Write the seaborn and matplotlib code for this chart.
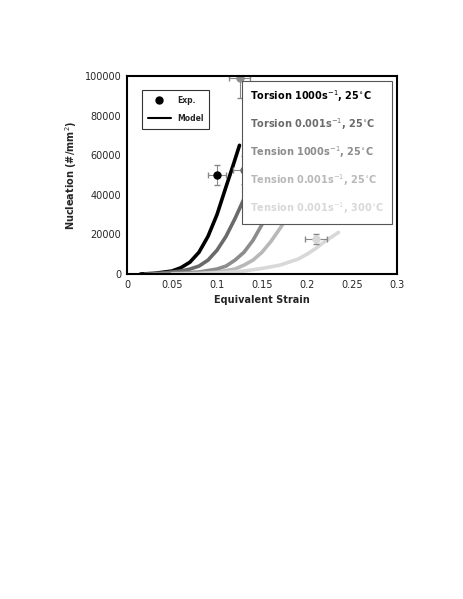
import matplotlib
matplotlib.use("Agg")
import matplotlib.pyplot as plt
import seaborn as sns
import pandas as pd
from matplotlib.lines import Line2D

series = ["Torsion 1000", "Torsion 0.001", "Tension 1000", "Tension 0.001", "Tension 300C"]
labels = [r"Torsion 1000s$^{-1}$, 25$^{\circ}$C", r"Torsion 0.001s$^{-1}$, 25$^{\circ}$C",
          r"Tension 1000s$^{-1}$, 25$^{\circ}$C", r"Tension 0.001s$^{-1}$, 25$^{\circ}$C",
          r"Tension 0.001s$^{-1}$, 300$^{\circ}$C"]
colors = ["#000000", "#6a6a6a", "#8c8c8c", "#b8b8b8", "#d8d8d8"]

curve_x = [
    [0.015, 0.03, 0.05, 0.06, 0.07, 0.08, 0.09, 0.1, 0.11, 0.118, 0.125],
    [0.02, 0.04, 0.06, 0.07, 0.08, 0.09, 0.1, 0.11, 0.12, 0.13, 0.14, 0.15],
    [0.03, 0.05, 0.08, 0.1, 0.11, 0.12, 0.13, 0.14, 0.15, 0.158, 0.165],
    [0.05, 0.08, 0.1, 0.12, 0.13, 0.14, 0.15, 0.16, 0.17, 0.18, 0.187],
    [0.05, 0.08, 0.11, 0.13, 0.15, 0.17, 0.19, 0.2, 0.21, 0.22, 0.235],
]
curve_y = [
    [0, 300, 1500, 3200, 6000, 11000, 19000, 30000, 44000, 55000, 65000],
    [0, 500, 1500, 2500, 4000, 7000, 12000, 19000, 28000, 38000, 50000, 64000],
    [0, 300, 1000, 2500, 4000, 7000, 11000, 17000, 25000, 33000, 42000],
    [0, 300, 900, 2500, 4500, 7000, 11000, 16500, 23000, 30000, 36000],
    [0, 200, 800, 1500, 2800, 4500, 7500, 10000, 13000, 16500, 21000],
]
exp_x = [0.1, 0.13, 0.125, 0.17, 0.21]
exp_y = [50000, 52500, 99000, 36500, 17500]
exp_xerr = [0.01, 0.012, 0.012, 0.012, 0.012]
exp_yerr = [5000, 7000, 10000, 3500, 2500]

rows = []
for s, xs, ys in zip(series, curve_x, curve_y):
    for x, y in zip(xs, ys):
        rows.append({"series": s, "strain": x, "N": y})
df = pd.DataFrame(rows)

sns.set_style("white")
fig = plt.figure(figsize=(4.63, 5.99), dpi=100)
ax = fig.add_axes([127/463, 1-274/599, (397-127)/463, (274-76)/599])
sns.lineplot(data=df, x="strain", y="N", hue="series", palette=colors, linewidth=2.6,
             legend=False, ax=ax, sort=True)
for i in range(5):
    ax.errorbar(exp_x[i], exp_y[i], xerr=exp_xerr[i], yerr=exp_yerr[i], fmt="o",
                color=colors[i], ms=5, elinewidth=0.8, capsize=2, ecolor="#888888")

ax.set_xlim(0, 0.3)
ax.set_ylim(0, 100000)
ax.set_xticks([0, 0.05, 0.1, 0.15, 0.2, 0.25, 0.3])
ax.set_xticklabels(["0", "0.05", "0.1", "0.15", "0.2", "0.25", "0.3"])
ax.set_yticks(range(0, 100001, 20000))
ax.tick_params(labelsize=7, length=0, pad=4)
ax.set_xlabel("Equivalent Strain", fontsize=7, fontweight="bold")
ax.set_ylabel("Nucleation (#/mm$^2$)", fontsize=7, fontweight="bold")
for sp in ax.spines.values():
    sp.set_linewidth(1.5)
    sp.set_color("black")

handles = [Line2D([], [], marker="o", color="black", ls="none", ms=5),
           Line2D([], [], color="black", lw=1.5)]
leg = ax.legend(handles, ["Exp.", "Model"], loc="upper left", bbox_to_anchor=(0.04, 0.95),
                frameon=True, fancybox=False, markerfirst=True,
                prop={"weight": "bold", "size": 5.5}, handlelength=3, borderpad=0.8, labelspacing=1.2)
leg.get_frame().set_edgecolor("black")
leg.get_frame().set_linewidth(0.8)

h2 = [Line2D([], [], ls="none") for _ in labels]
leg2 = ax.legend(h2, labels, loc="upper right", bbox_to_anchor=(1.0, 1.0), frameon=True,
                 fancybox=False, handlelength=0, handletextpad=0, labelspacing=1.25,
                 borderpad=0.8, prop={"weight": "bold", "size": 7})
for t, c in zip(leg2.get_texts(), colors):
    t.set_color(c if c != "#000000" else "black")
leg2.get_frame().set_edgecolor("#555555")
leg2.get_frame().set_linewidth(0.8)
leg2.get_frame().set_alpha(1)
ax.add_artist(leg)

fig.savefig("out.png", dpi=100)
